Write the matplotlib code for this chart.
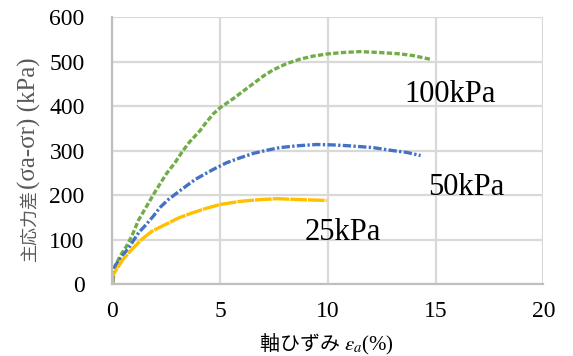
import matplotlib
matplotlib.use("Agg")
import matplotlib.pyplot as plt

# Data
x_100 = [0, 0.04, 0.35, 0.66, 0.9, 1.2, 1.5, 1.97, 2.5, 2.9, 3.27, 3.6, 4.06, 4.29, 4.68, 5.0, 5.63,
         6.09, 6.56, 7.0, 7.46, 8.08, 8.7, 9.32, 10.01, 10.7, 11.49, 12.4, 13.34, 13.96, 14.73]
y_100 = [0, 30, 63, 86, 108, 143, 168, 207, 248, 273, 300, 321, 345, 360, 383, 397, 418,
         435, 452, 468, 482, 496, 506, 513, 518, 521, 523, 521, 518, 514, 506]

x_50 = [0, 0.12, 0.45, 0.76, 1.22, 1.51, 1.9, 2.2, 2.59, 3.21, 3.83, 4.3, 4.68, 5.3, 5.92, 6.54,
        7.16, 7.77, 8.55, 9.48, 10.25, 11.0, 12.1, 12.9, 13.68, 14.3]
y_50 = [0, 41, 63, 82, 116, 131, 153, 172, 190, 213, 235, 248, 258, 273, 284, 294,
        301, 307, 311, 314, 313, 311, 307, 301, 296, 289]

x_25 = [0, 0.02, 0.2, 0.5, 0.9, 1.37, 1.84, 2.46, 3.08, 3.7, 4.33, 5.0, 5.92, 6.85, 7.62, 8.7, 9.94]
y_25 = [0, 19, 34, 56, 78, 101, 119, 134, 149, 160, 170, 179, 186, 190, 192, 190, 188]

series_labels = ["100kPa", "50kPa", "25kPa"]
label_pos = [(13.56, 426), (14.63, 217), (8.94, 116)]

x_ticks = [0, 5, 10, 15, 20]
y_ticks = [0, 100, 200, 300, 400, 500, 600]

plt.rcParams["mathtext.fontset"] = "stix"

fig = plt.figure(figsize=(5.73, 3.56), dpi=100)
ax = fig.add_axes([0.1963, 0.2022, 0.7521, 0.7489])

ax.plot(x_100, y_100, color="#70AD47", lw=2.4, ls=(0, (1.6, 0.7)))
ax.plot(x_50, y_50, color="#4472C4", lw=2.4, ls=(0, (2.5, 0.7, 0.7, 0.7)))
ax.plot(x_25, y_25, color="#FFC000", lw=2.4, ls=(0, (5, 0.3)))

ax.set_xlim(0, 20)
ax.set_ylim(0, 600)
ax.set_xticks(x_ticks)
ax.set_yticks(y_ticks)
ax.grid(True, color="#D9D9D9", lw=1.6)
ax.set_axisbelow(True)
for s in ["top", "right"]:
    ax.spines[s].set_visible(False)
for s in ["left", "bottom"]:
    ax.spines[s].set_color("#BFBFBF")
    ax.spines[s].set_linewidth(1.6)
ax.tick_params(length=0)
ax.tick_params(axis="y", pad=20)
ax.tick_params(axis="x", pad=12)
for lab in ax.get_xticklabels() + ax.get_yticklabels():
    lab.set_fontfamily("Liberation Serif")
    lab.set_fontsize(17)
    lab.set_color("#000000")

for lab, (lx, ly) in zip(series_labels, label_pos):
    ax.text(lx, ly, lab, fontsize=22, family="Liberation Serif", ha="left", va="center", color="#000000")

# y label: CJK part (bottom) + serif part (top)
ysplit = 1 - 189 / 356
fig.text(0.052, ysplit, "主応力差", rotation=90, ha="center", va="top",
         family=["Noto Sans CJK JP", "DejaVu Sans"], fontsize=13, color="#595959")
fig.text(0.052, ysplit, "(σa-σr) (kPa)", rotation=90, ha="center", va="bottom",
         family=["Liberation Serif", "DejaVu Serif"], fontsize=18, color="#595959")

# x label: CJK part + serif epsilon
xsplit = 344 / 573
fig.text(xsplit, 1 - 345 / 356, "軸ひずみ ", ha="right", va="center",
         family=["Noto Sans CJK JP", "DejaVu Sans"], fontsize=14.4, color="#000000")
fig.text(xsplit, 1 - 345 / 356, r"$\varepsilon_a$(%)", ha="left", va="center",
         family="Liberation Serif", fontsize=15, color="#000000")

fig.savefig("out.png", dpi=100)
